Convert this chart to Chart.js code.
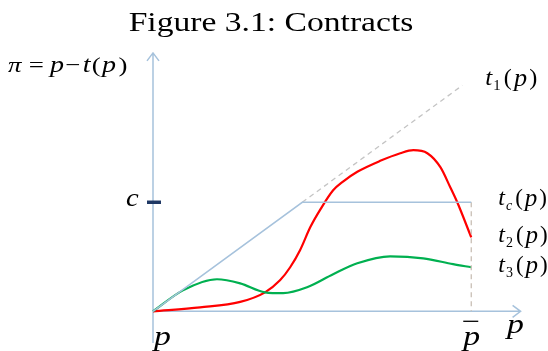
<!DOCTYPE html>
<html>
<head>
<meta charset="utf-8">
<script src="https://cdn.jsdelivr.net/npm/chart.js@4"></script>
<style>
  html, body { margin: 0; padding: 0; background: #fff; }
  #caja { width: 548px; height: 351px; }
</style>
</head>
<body>
<div id="caja"><canvas id="contratos"></canvas></div>
<script>
// price ceiling, cost level and the kink of the competitive contract
const pBar = 100;
const cLevel = 50;
const kinkX = 46.9;
const t1Top = [97.2, 103.6];

// t2(p): steep S-shaped contract
const t2x = [0, 14.8, 27.4, 35.2, 39.9, 43.1, 46.2, 49.4, 52.5, 56.6, 59.7, 64.2, 71.4, 77.7, 81.8, 86.2, 90.3, 93.4, 95.6, 100];
const t2y = [0, 1.8, 4.3, 8.7, 14.2, 20.2, 28, 38.5, 46.5, 55.5, 59.5, 64, 69, 72.5, 73.9, 72.5, 66.1, 56.9, 50, 33.9];

// t3(p): flat wavy contract
const t3x = [0, 9.4, 20.1, 27.4, 35.2, 40.9, 48.4, 56.6, 64.2, 74.5, 84.9, 94.3, 100];
const t3y = [0, 9.6, 14.7, 12.8, 8.7, 8.3, 11, 17, 22, 25.2, 24.3, 21.6, 20.2];

const azul = '#a6c2dc';
const toPts = (xs, ys) => xs.map((x, i) => ({ x: x, y: ys[i] }));

const SERIF = '"Liberation Serif", "DejaVu Serif", serif';

// runs of [text, italic, size, gap after, vertical shift], widened by k
function linea(ctx, partes, x, y, k) {
    k = k || 1;
    ctx.save();
    ctx.translate(x, y);
    ctx.scale(k, 1);
    ctx.textBaseline = 'middle';
    ctx.textAlign = 'left';
    let cx = 0;
    partes.forEach(function (p) {
        ctx.font = (p[1] ? 'italic ' : '') + p[2] + 'px ' + SERIF;
        ctx.fillText(p[0], cx, p[4] || 0);
        cx += ctx.measureText(p[0]).width + (p[3] || 0);
    });
    ctx.restore();
}

// t + subscript + (p)
function etiquetaT(ctx, sub, x, y, subItalic, k) {
    linea(ctx, [
        ['t', true, 24, 1],
        [sub, subItalic, 14, 3, 7],
        ['(', false, 23, 2],
        ['p', true, 25, 2],
        [')', false, 23, 0]
    ], x, y, k);
}

const ejes = {
    id: 'ejes',
    beforeDatasetsDraw(chart) {
        const ctx = chart.ctx;
        const sx = chart.scales.x, sy = chart.scales.y;
        const x0 = sx.getPixelForValue(0), y0 = sy.getPixelForValue(0);
        const yTop = sy.getPixelForValue(118.5), yLow = sy.getPixelForValue(-14.5);
        const xEnd = sx.getPixelForValue(115.5);
        ctx.save();
        ctx.strokeStyle = azul;
        ctx.lineWidth = 1.5;
        ctx.beginPath();
        ctx.moveTo(x0, yLow); ctx.lineTo(x0, yTop);
        ctx.moveTo(x0 - 6, yTop + 8); ctx.lineTo(x0, yTop); ctx.lineTo(x0 + 6, yTop + 8);
        ctx.moveTo(x0, y0); ctx.lineTo(xEnd, y0);
        ctx.moveTo(xEnd - 8, y0 - 6); ctx.lineTo(xEnd, y0); ctx.lineTo(xEnd - 8, y0 + 6);
        ctx.stroke();
        // c tick
        const yc = sy.getPixelForValue(cLevel);
        ctx.strokeStyle = '#1f3864';
        ctx.lineWidth = 3.5;
        ctx.beginPath();
        ctx.moveTo(x0 - 6, yc); ctx.lineTo(x0 + 8, yc);
        ctx.stroke();
        ctx.restore();
    },
    afterDraw(chart) {
        const ctx = chart.ctx;
        const sx = chart.scales.x, sy = chart.scales.y;
        const x0 = sx.getPixelForValue(0), y0 = sy.getPixelForValue(0);
        const xb = sx.getPixelForValue(pBar);
        ctx.save();
        ctx.fillStyle = '#000';

        // title, widened a little
        ctx.save();
        ctx.translate(271, 31);
        ctx.scale(1.2, 1);
        ctx.textAlign = 'center';
        ctx.textBaseline = 'alphabetic';
        ctx.font = '28px ' + SERIF;
        ctx.fillText('Figure 3.1: Contracts', 0, 0);
        ctx.restore();

        etiquetaT(ctx, '1', xb + 14, 79, false, 1.05);
        etiquetaT(ctx, 'c', xb + 27, 199, true, 1);
        etiquetaT(ctx, '2', xb + 27, 236, false, 1);
        etiquetaT(ctx, '3', xb + 27, 266, false, 1);

        linea(ctx, [
            ['\u03c0', true, 22, 6], ['=', false, 22, 5], ['p', true, 23, 1],
            ['\u2212', false, 22, 2], ['t', true, 23, 1], ['(', false, 22, 1],
            ['p', true, 23, 2], [')', false, 22, 0]
        ], 8, 66, 1.22);
        linea(ctx, [['c', true, 26]], 126, sy.getPixelForValue(cLevel) - 3, 1.1);
        linea(ctx, [['p', true, 27]], x0 + 1, y0 + 27, 1.25);
        linea(ctx, [['p', true, 27]], xb - 8, y0 + 27, 1.25);
        linea(ctx, [['p', true, 27]], x0 + 354, y0 + 15, 1.25);

        ctx.strokeStyle = '#000';
        ctx.lineWidth = 1.3;
        ctx.beginPath();
        ctx.moveTo(xb - 8, y0 + 10); ctx.lineTo(xb + 7, y0 + 10);
        ctx.stroke();
        ctx.restore();
    }
};

new Chart(document.getElementById('contratos'), {
    type: 'line',
    data: {
        datasets: [
            {
                label: 'tc',
                data: toPts([0, kinkX, pBar], [0, cLevel, cLevel]),
                borderColor: azul,
                borderWidth: 1.5,
                tension: 0
            },
            {
                label: 't1',
                data: toPts([kinkX, t1Top[0]], [cLevel, t1Top[1]]),
                borderColor: '#c4c4c4',
                borderWidth: 1.3,
                borderDash: [5, 4],
                tension: 0
            },
            {
                label: 'pbar',
                data: toPts([pBar, pBar], [cLevel, 0]),
                borderColor: '#c9bfb5',
                borderWidth: 1.3,
                borderDash: [5, 4],
                tension: 0
            },
            {
                label: 't3',
                data: toPts(t3x, t3y),
                borderColor: '#00b050',
                borderWidth: 2.2,
                cubicInterpolationMode: 'monotone'
            },
            {
                label: 't2',
                data: toPts(t2x, t2y),
                borderColor: '#ff0000',
                borderWidth: 2.2,
                cubicInterpolationMode: 'monotone'
            }
        ]
    },
    options: {
        responsive: true,
        maintainAspectRatio: false,
        animation: false,
        clip: false,
        layout: { padding: { left: 153, right: 29, top: 54, bottom: 7 } },
        elements: { point: { radius: 0 } },
        plugins: { legend: { display: false }, tooltip: { enabled: false } },
        scales: {
            x: { type: 'linear', min: 0, max: 115, display: false },
            y: { type: 'linear', min: -15, max: 118, display: false }
        }
    },
    plugins: [ejes]
});
</script>
</body>
</html>
